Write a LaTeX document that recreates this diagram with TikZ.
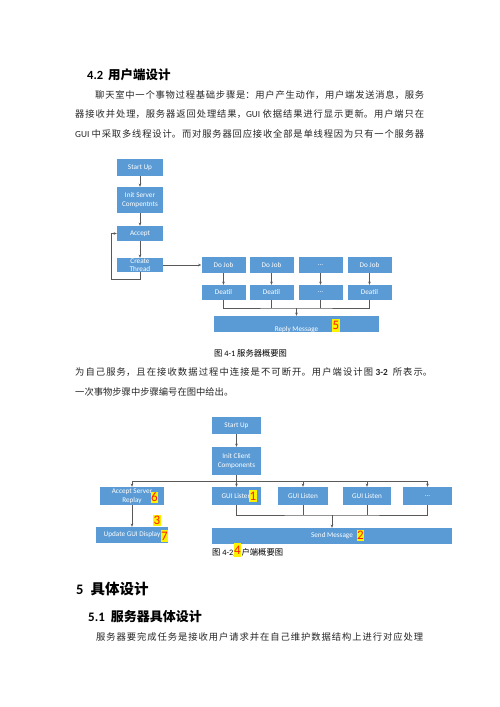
\documentclass[tikz,border=0pt]{standalone}
\usepackage{fontspec}
\setmainfont{Carlito}
\newfontfamily\cjk{Noto Sans CJK SC}
\usetikzlibrary{arrows.meta}
\XeTeXlinebreaklocale "zh"
\XeTeXlinebreakskip=0pt plus 3pt minus 0.3pt
\definecolor{boxblue}{HTML}{5B9BD5}
\definecolor{linegray}{HTML}{595959}
\definecolor{bodytext}{HTML}{262626}
\definecolor{mkred}{HTML}{FF1A00}
\newcommand\latn[1]{{\rmfamily #1}}
\newcommand\bodyfnt{\cjk\fontsize{9.3}{11}\selectfont}
\newcommand\jline[4]{\node[txt] at (#1,#2) {\parbox[b]{#3pt}{\bodyfnt\parfillskip=0pt #4}};}
\begin{document}
\begin{tikzpicture}[x=1pt,y=-1pt,
  box/.style={fill=boxblue,text=white,inner sep=0pt,align=center,font=\fontsize{7.2}{9}\selectfont},
  conn/.style={draw=linegray,line width=0.6pt},
  arr/.style={conn,-{Stealth[length=3.2pt,width=2.6pt]}},
  marker/.style={fill=yellow,text=mkred,inner sep=0pt,minimum width=7.5pt,minimum height=13pt,font=\fontsize{13}{13}\selectfont},
  txt/.style={anchor=base west,inner sep=0pt,text=bodytext},
  caption/.style={anchor=base west,inner sep=0pt,text=black,font=\fontsize{8.3}{10}\selectfont}]
\useasboundingbox[fill=white] (0,0) rectangle (500,707);

% heading and paragraph
\node[txt,text=black] (h42) at (87,79) {\fontsize{12.5}{14}\selectfont\bfseries 4.2\hspace{5pt}{\cjk 用户端设计}};
\jline{95}{98}{329}{聊天室中一个事物过程基础步骤是：用户产生动作，用户端发送消息，服务}
\jline{75}{117.5}{349}{器接收并处理，服务器返回处理结果，\latn{GUI} 依据结果进行显示更新。用户端只在}
\jline{75}{137}{349}{\latn{GUI} 中采取多线程设计。而对服务器回应接收全部是单线程因为只有一个服务器}

% ---------- diagram 1 ----------
\node[box,minimum width=46pt,minimum height=17pt] (s1) at (140,167.5) {Start Up};
\node[box,minimum width=46pt,minimum height=26pt] (i1) at (140,200) {Init Server\\Compentnts};
\node[box,minimum width=46pt,minimum height=15pt] (a1) at (140,233.5) {Accept};
\node[box,minimum width=46pt,minimum height=14pt,font=\fontsize{7.2}{8.6}\selectfont] (c1) at (140,265) {Create\\Thread};
\node[box,minimum width=44pt,minimum height=16pt] (d1) at (223.5,265) {Do Job};
\node[box,minimum width=44pt,minimum height=16pt] (d2) at (271.5,265) {Do Job};
\node[box,minimum width=44pt,minimum height=16pt] (d3) at (320.5,265) {...};
\node[box,minimum width=44pt,minimum height=16pt] (d4) at (369.5,265) {Do Job};
\node[box,minimum width=44pt,minimum height=15pt] (e1) at (223.5,292.5) {Deatil};
\node[box,minimum width=44pt,minimum height=15pt] (e2) at (271.5,292.5) {Deatil};
\node[box,minimum width=44pt,minimum height=15pt] (e3) at (320.5,292.5) {...};
\node[box,minimum width=44pt,minimum height=15pt] (e4) at (369.5,292.5) {Deatil};
\node[box,minimum width=165pt,minimum height=16pt,text height=14.5pt,text depth=0pt] (rm) at (296.5,324) {Reply Message};
\node[marker] (m5) at (336,325.5) {5};

\draw[arr] (s1) -- (i1);
\draw[arr] (i1) -- (a1);
\draw[arr] (a1) -- (c1);
\draw[arr] (c1) -- (d1);
\coordinate (lp) at (111,279);
\draw[arr] (c1.south) |- (lp) |- (a1.west);
\draw[arr] (d1) -- (e1);
\draw[arr] (d2) -- (e2);
\draw[arr] (d3) -- (e3);
\draw[arr] (d4) -- (e4);
\coordinate (b1) at (296.5,308);
\draw[conn] (e1.south) |- (b1) -| (e4.south);
\draw[conn] (e2.south) -- (e2.south |- b1);
\draw[conn] (e3.south) -- (e3.south |- b1);
\draw[arr] (b1) -- (rm.north);

\node[caption] (cap1) at (214,356) {{\cjk 图} 4-1 {\cjk 服务器概要图}};

\jline{75}{375}{357}{为自己服务，且在接收数据过程中连接是不可断开。用户端设计图 \latn{\textbf{3-2}}\ \ 所表示。}
\node[txt] (l5) at (75,395) {\bodyfnt 一次事物步骤中步骤编号在图中给出。};

% ---------- diagram 2 ----------
\node[box,minimum width=49pt,minimum height=17pt] (s2) at (236.5,425.5) {Start Up};
\node[box,minimum width=49pt,minimum height=28pt] (i2) at (236.5,461) {Init Client\\Components};
\node[box,minimum width=64pt,minimum height=18pt] (ar) at (132,496) {Accept Server\\Replay};
\node[box,minimum width=49pt,minimum height=18pt] (g1) at (236.5,496) {GUI Listen};
\node[box,minimum width=50pt,minimum height=18pt] (g2) at (303,496) {GUI Listen};
\node[box,minimum width=48pt,minimum height=18pt] (g3) at (367,496) {GUI Listen};
\node[box,minimum width=49pt,minimum height=18pt] (g4) at (427.5,496) {...};
\node[box,minimum width=72pt,minimum height=16pt] (ud) at (132,535) {Update GUI Display};
\node[box,minimum width=240pt,minimum height=16pt] (sm) at (332,536) {Send Message};

\draw[arr] (s2) -- (i2);
\coordinate (tb) at (236.5,481);
\draw[arr] (i2) -- (g1);
\draw[conn] (ar.north |- tb) -- (g4.north |- tb);
\draw[arr] (ar.north |- tb) -- (ar.north);
\draw[arr] (g2.north |- tb) -- (g2.north);
\draw[arr] (g3.north |- tb) -- (g3.north);
\draw[arr] (g4.north |- tb) -- (g4.north);
\draw[arr] (ar) -- (ud);
\coordinate (bb) at (332,515);
\draw[conn] (g1.south) |- (bb) -| (g4.south);
\draw[conn] (g2.south) -- (g2.south |- bb);
\draw[conn] (g3.south) -- (g3.south |- bb);
\draw[arr] (bb) -- (sm.north);

\node[caption] (cap2) at (212,555) {{\cjk 图} 4-2{\cjk 用户端概要图}};

\node[marker,minimum height=11pt] (m6) at (154.5,497) {6};
\node[marker,minimum height=11pt] (m3) at (157,520) {3};
\node[marker,minimum height=12pt] (m7) at (164.5,536) {7};
\node[marker,minimum height=12pt] (m1) at (253,496) {1};
\node[marker,minimum height=11pt] (m2) at (360.5,535.5) {2};
\node[marker,minimum height=14pt] (m4) at (237.5,550) {4};

% ---------- section 5 ----------
\node[txt,text=black] (h5) at (76,594) {\fontsize{14.5}{16}\selectfont\bfseries 5\hspace{7pt}{\cjk 具体设计}};
\node[txt,text=black] (h51) at (88,621) {\fontsize{13}{15}\selectfont\bfseries 5.1\hspace{6pt}{\cjk 服务器具体设计}};
\jline{96}{640}{327}{服务器要完成任务是接收用户请求并在自己维护数据结构上进行对应处理}
\end{tikzpicture}
\end{document}
